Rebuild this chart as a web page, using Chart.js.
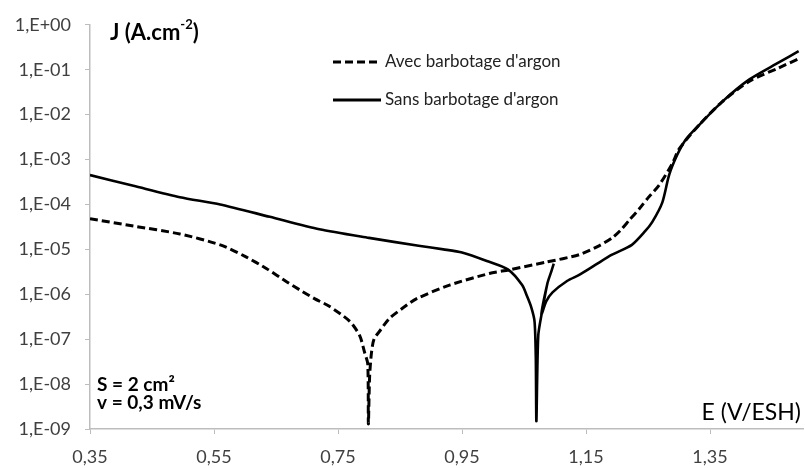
<!DOCTYPE html>
<html>
<head>
<meta charset="utf-8">
<script src="https://cdn.jsdelivr.net/npm/chart.js@4"></script>
<style>
  body { margin: 0; background: #fff; }
  #wrap { width: 805px; height: 468px; }
</style>
</head>
<body>
<div id="wrap"><canvas id="myChart"></canvas></div>
<script>
// Avec barbotage d'argon (dashed)
const eAvec = [0.35, 0.42, 0.495, 0.56, 0.60, 0.635, 0.667, 0.688, 0.712, 0.736, 0.769, 0.785, 0.793, 0.798, 0.799,
  0.801, 0.804, 0.808, 0.817, 0.833, 0.855, 0.877, 0.93, 0.994, 1.026, 1.086, 1.139, 1.171, 1.192, 1.205, 1.22,
  1.236, 1.25, 1.268, 1.289, 1.30, 1.332, 1.369, 1.413, 1.461, 1.493];
const jAvec = [4.8e-5, 3.3e-5, 2.2e-5, 1.26e-5, 7e-6, 3.7e-6, 1.9e-6, 1.26e-6, 8e-7, 5.4e-7, 2.5e-7, 1.2e-7, 5e-8, 2.8e-8, 1.3e-9,
  1.5e-8, 5e-8, 1e-7, 1.5e-7, 2.9e-7, 5e-7, 8e-7, 1.6e-6, 2.9e-6, 3.5e-6, 5.2e-6, 7.6e-6, 1.2e-5, 1.8e-5, 2.6e-5, 4.5e-5,
  8e-5, 1.4e-4, 2.7e-4, 8e-4, 1.7e-3, 5.8e-3, 1.9e-2, 5.5e-2, 1.1e-1, 1.75e-1];

// Sans barbotage d'argon (solid)
const eSans = [0.35, 0.42, 0.495, 0.56, 0.64, 0.72, 0.80, 0.88, 0.92, 0.95, 0.99, 1.025, 1.047, 1.055, 1.062, 1.067, 1.069, 1.070,
  1.073, 1.079, 1.088, 1.094, 1.098, 1.094, 1.088, 1.078, 1.086, 1.096, 1.12, 1.139, 1.165, 1.192, 1.224, 1.245, 1.257,
  1.273, 1.284, 1.297, 1.311, 1.332, 1.369, 1.413, 1.461, 1.493];
const jSans = [4.5e-4, 2.6e-4, 1.45e-4, 1.0e-4, 5.3e-5, 2.8e-5, 1.8e-5, 1.2e-5, 1.0e-5, 8.5e-6, 5.5e-6, 3.5e-6, 1.6e-6, 9e-7, 5e-7, 2.5e-7, 4e-8, 1.5e-9,
  1.2e-7, 4e-7, 1.8e-6, 3.2e-6, 4.8e-6, 3.2e-6, 1.8e-6, 3.5e-7, 7e-7, 1.1e-6, 2e-6, 2.7e-6, 4.5e-6, 7.6e-6, 1.26e-5, 2.5e-5, 4.1e-5,
  1.1e-4, 4.5e-4, 1.26e-3, 2.8e-3, 5.8e-3, 1.9e-2, 6e-2, 1.45e-1, 2.6e-1];

const xTicks = [0.35, 0.55, 0.75, 0.95, 1.15, 1.35];
const yTicks = [1e-9, 1e-8, 1e-7, 1e-6, 1e-5, 1e-4, 1e-3, 1e-2, 1e-1, 1];
const seriesNames = ["Avec barbotage d'argon", "Sans barbotage d'argon"];

function toPoints(xs, ys) {
  return xs.map((x, i) => ({ x: x, y: ys[i] }));
}

function expLabel(v) {
  const p = Math.round(Math.log10(v));
  const s = String(Math.abs(p)).padStart(2, '0');
  return '1,E' + (p >= 0 ? '+' : '-') + s;
}

const axisGray = '#bdbdbd';
const labelColor = '#404040';

const textPlugin = {
  id: 'texts',
  afterDraw(chart) {
    const ctx = chart.ctx;
    ctx.save();
    ctx.fillStyle = '#000';
    ctx.textBaseline = 'middle';

    // y title with superscript
    ctx.font = 'bold 22px Lato';
    ctx.textAlign = 'left';
    let x = 110;
    ctx.fillText('J (A.cm', x, 33);
    x += ctx.measureText('J (A.cm').width;
    ctx.font = 'bold 13px Lato';
    ctx.fillText('-2', x, 25);
    x += ctx.measureText('-2').width;
    ctx.font = 'bold 22px Lato';
    ctx.fillText(')', x, 33);

    // x title
    ctx.font = '23px Lato';
    ctx.textAlign = 'right';
    ctx.fillText('E (V/ESH)', 801, 413);

    // conditions
    ctx.font = 'bold 19px Lato';
    ctx.textAlign = 'left';
    ctx.fillText('S = 2 cm²', 97, 385);
    ctx.fillText('v = 0,3 mV/s', 97, 403);

    // legend
    ctx.strokeStyle = '#000';
    ctx.lineWidth = 3;
    ctx.setLineDash([8, 4]);
    ctx.beginPath();
    ctx.moveTo(333, 62);
    ctx.lineTo(381, 62);
    ctx.stroke();
    ctx.setLineDash([]);
    ctx.beginPath();
    ctx.moveTo(333, 100);
    ctx.lineTo(381, 100);
    ctx.stroke();
    ctx.font = '17px Lato';
    ctx.fillStyle = '#222';
    ctx.fillText(seriesNames[0], 385, 62);
    ctx.fillText(seriesNames[1], 385, 100);
    ctx.restore();
  }
};

const ctx = document.getElementById('myChart').getContext('2d');

const myChart = new Chart(ctx, {
  type: 'scatter',
  data: {
    datasets: [
      {
        label: seriesNames[0],
        data: toPoints(eAvec, jAvec),
        showLine: true,
        borderColor: '#000',
        backgroundColor: '#000',
        borderWidth: 3,
        borderDash: [8, 4],
        pointRadius: 0,
        tension: 0.25
      },
      {
        label: seriesNames[1],
        data: toPoints(eSans, jSans),
        showLine: true,
        borderColor: '#000',
        backgroundColor: '#000',
        borderWidth: 2.6,
        pointRadius: 0,
        tension: 0.25
      }
    ]
  },
  options: {
    responsive: true,
    maintainAspectRatio: false,
    animation: false,
    layout: { padding: { top: 22, right: 2, left: 0, bottom: 0 } },
    plugins: {
      legend: { display: false },
      tooltip: { enabled: false }
    },
    scales: {
      x: {
        type: 'linear',
        min: 0.35,
        max: 1.5,
        afterFit: s => { s.height = 39; },
        afterBuildTicks: s => { s.ticks = xTicks.map(v => ({ value: v })); },
        border: { color: axisGray, width: 1.5 },
        grid: { drawOnChartArea: false, color: axisGray, tickLength: 5 },
        ticks: {
          padding: 12,
          color: labelColor,
          font: { family: 'Lato', size: 18 },
          maxRotation: 0,
          callback: v => v.toFixed(2).replace('.', ',')
        }
      },
      y: {
        type: 'logarithmic',
        min: 1e-9,
        max: 1,
        afterFit: s => { s.width = 90; },
        afterBuildTicks: s => { s.ticks = yTicks.map(v => ({ value: v })); },
        border: { color: axisGray, width: 1.5 },
        grid: { drawOnChartArea: false, color: axisGray, tickLength: 5 },
        ticks: {
          padding: 14,
          color: labelColor,
          font: { family: 'Lato', size: 18 },
          callback: v => expLabel(v)
        }
      }
    }
  },
  plugins: [textPlugin]
});
</script>
</body>
</html>
